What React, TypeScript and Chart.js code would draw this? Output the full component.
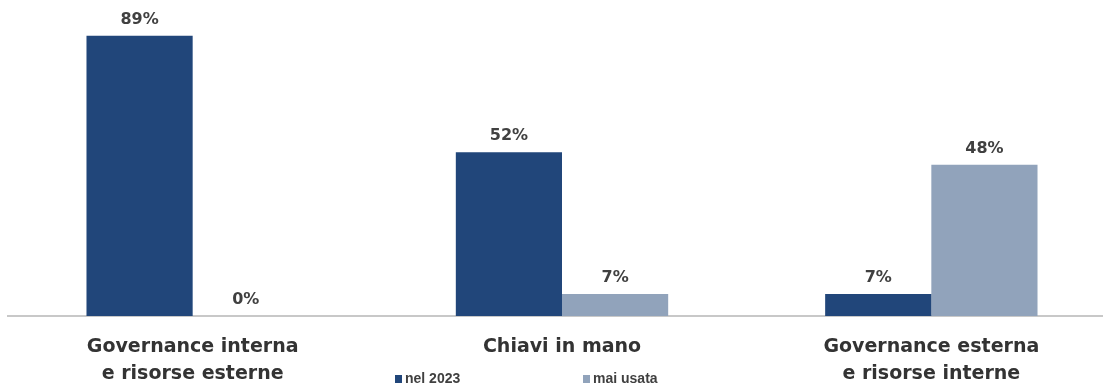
import React, { useEffect, useRef } from "react";
import { Chart, registerables } from "chart.js";

Chart.register(...registerables);

const categories: string[][] = [
  ["Governance interna", "e risorse esterne"],
  ["Chiavi in mano"],
  ["Governance esterna", "e risorse interne"],
];
const seriesNames = ["nel 2023", "mai usata"];
const nel2023 = [89, 52, 7];
const maiUsata = [0, 7, 48];
const colors = ["#21467a", "#91a3bb"];

const valueLabels = {
  id: "valueLabels",
  afterDatasetsDraw(chart: any) {
    const ctx = chart.ctx;
    ctx.save();
    ctx.font = "bold 16px 'DejaVu Sans'";
    ctx.fillStyle = "#404040";
    ctx.textAlign = "center";
    ctx.textBaseline = "middle";
    chart.data.datasets.forEach((ds: any, i: number) => {
      const meta = chart.getDatasetMeta(i);
      meta.data.forEach((el: any, j: number) => {
        ctx.fillText(`${ds.data[j]}%`, el.x, el.y - 16);
      });
    });
    ctx.restore();
  },
};

const customLegend = {
  id: "customLegend",
  afterDraw(chart: any) {
    const ctx = chart.ctx;
    const items = [
      { x: 395, label: seriesNames[0], color: colors[0] },
      { x: 583, label: seriesNames[1], color: colors[1] },
    ];
    ctx.save();
    ctx.font = "bold 14px 'Liberation Sans'";
    ctx.textBaseline = "middle";
    ctx.textAlign = "left";
    items.forEach((it) => {
      ctx.fillStyle = it.color;
      ctx.fillRect(it.x, 375, 7, 8);
      ctx.fillStyle = "#404040";
      ctx.fillText(it.label, it.x + 10, 379);
    });
    ctx.restore();
  },
};

export default function App() {
  const ref = useRef<HTMLCanvasElement>(null);
  useEffect(() => {
    if (!ref.current) return;
    const chart = new Chart(ref.current, {
      type: "bar",
      data: {
        labels: categories,
        datasets: [
          { label: seriesNames[0], data: nel2023, backgroundColor: colors[0] },
          { label: seriesNames[1], data: maiUsata, backgroundColor: colors[1] },
        ],
      },
      options: {
        animation: false,
        responsive: false,
        maintainAspectRatio: false,
        layout: { padding: { left: 8, right: 8, top: 1, bottom: 0 } },
        datasets: { bar: { categoryPercentage: 0.575, barPercentage: 1 } },
        plugins: { legend: { display: false }, tooltip: { enabled: false } },
        scales: {
          x: {
            grid: { display: false, drawTicks: false },
            border: { display: true, color: "#c8c8c8", width: 2 },
            ticks: {
              padding: 18,
              color: "#333333",
              font: { family: "'DejaVu Sans'", weight: "bold", size: 19, lineHeight: "27px" },
              maxRotation: 0,
              autoSkip: false,
            },
            afterFit: (s: any) => {
              s.height = 72;
            },
          },
          y: { display: false, min: 0, max: 100 },
        },
      },
      plugins: [valueLabels, customLegend],
    } as any);
    return () => chart.destroy();
  }, []);
  return (
    <div style={{ position: "fixed", left: 0, top: 0, width: 1103, height: 388, overflow: "hidden", background: "#fff" }}>
      <canvas ref={ref} width={1124} height={388} style={{ width: 1124, height: 388, display: "block" }} />
    </div>
  );
}
